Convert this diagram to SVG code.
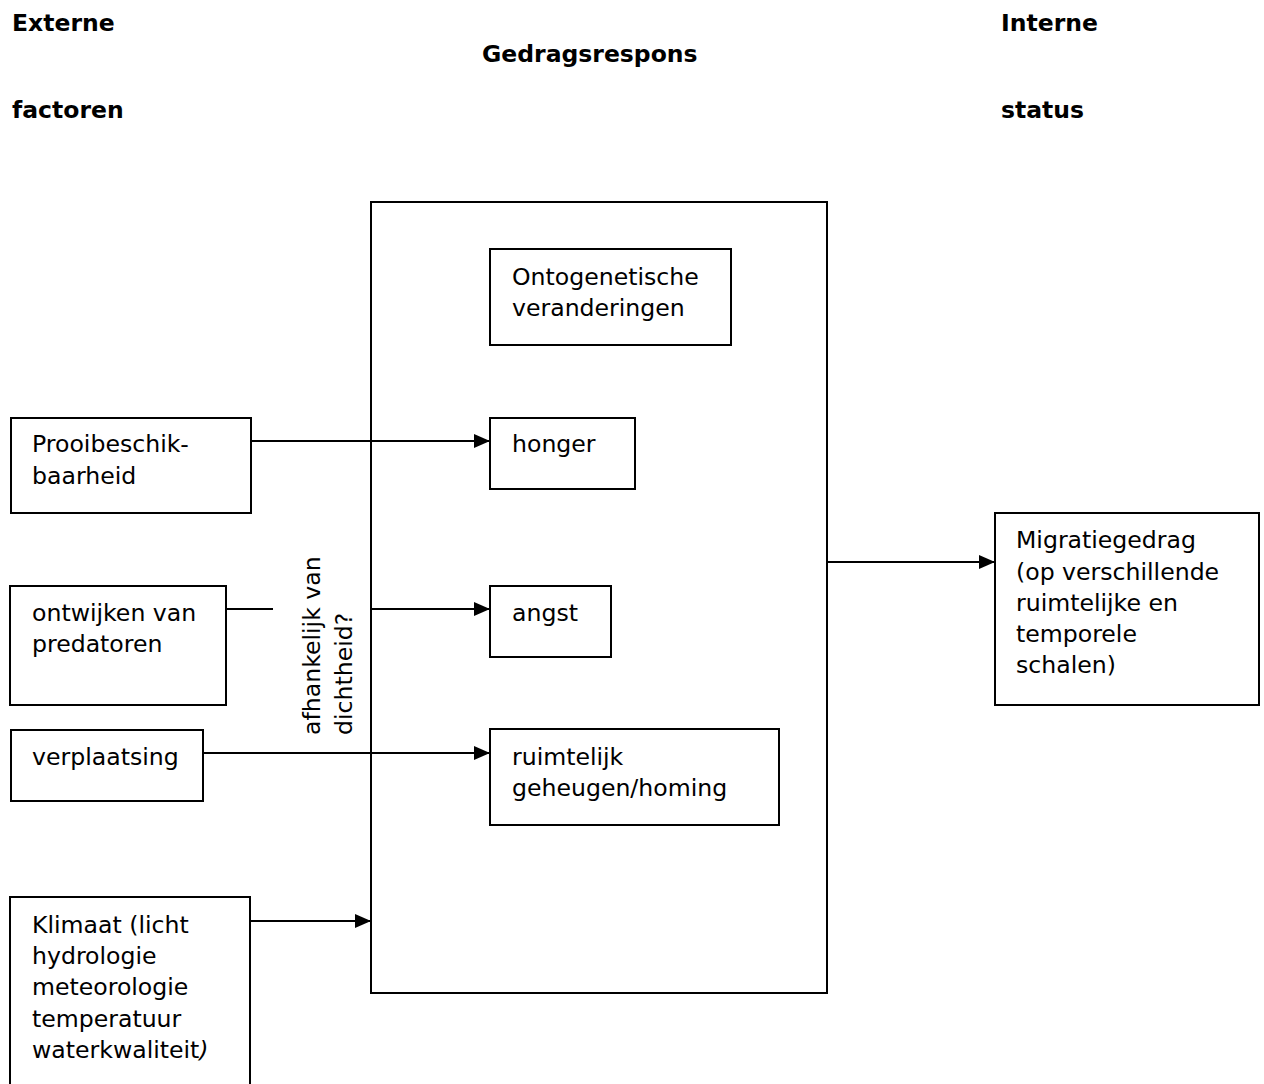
<svg xmlns="http://www.w3.org/2000/svg" width="1264" height="1084" viewBox="0 0 1264 1084">
<defs>
<marker id="ah" markerWidth="16" markerHeight="14" refX="16" refY="7" orient="auto" markerUnits="userSpaceOnUse">
<path d="M0,0 L16,7 L0,14 Z" fill="#000"/>
</marker>
<style>
text{font-family:"DejaVu Sans",Verdana,sans-serif;font-size:23.6px;fill:#000}
.h{font-weight:bold;font-size:23.5px}
.box{fill:#fff;stroke:#000;stroke-width:2}
.c{stroke:#000;stroke-width:2;fill:none}
</style>
</defs>
<rect width="1264" height="1084" fill="#fff"/>
<g id="headers">
<text class="h" x="12" y="31">Externe</text>
<text class="h" x="12" y="118">factoren</text>
<text class="h" x="482" y="62">Gedragsrespons</text>
<text class="h" x="1001" y="31">Interne</text>
<text class="h" x="1001" y="118">status</text>
</g>
<g id="main">
<rect class="box" x="371" y="202" width="456" height="791"/>
</g>
<g id="density">
<rect x="273" y="528" width="97" height="217" fill="#fff"/>
<line x1="371" y1="528" x2="371" y2="745" stroke="#000" stroke-width="1"/>
<text transform="translate(320,735) rotate(-90)">afhankelijk van</text>
<text transform="translate(352,735) rotate(-90)">dichtheid?</text>
</g>
<g id="connectors">
<line class="c" x1="251" y1="441" x2="490" y2="441" marker-end="url(#ah)"/>
<line class="c" x1="226" y1="609" x2="273" y2="609"/>
<line class="c" x1="371" y1="609" x2="490" y2="609" marker-end="url(#ah)"/>
<line class="c" x1="203" y1="753" x2="490" y2="753" marker-end="url(#ah)"/>
<line class="c" x1="250" y1="921" x2="371" y2="921" marker-end="url(#ah)"/>
<line class="c" x1="827" y1="562" x2="995" y2="562" marker-end="url(#ah)"/>
</g>
<g id="ontogenetische">
<rect class="box" x="490" y="249" width="241" height="96"/>
<text x="512" y="285">Ontogenetische</text>
<text x="512" y="316">veranderingen</text>
</g>
<g id="honger">
<rect class="box" x="490" y="418" width="145" height="71"/>
<text x="512" y="452">honger</text>
</g>
<g id="angst">
<rect class="box" x="490" y="586" width="121" height="71"/>
<text x="512" y="621">angst</text>
</g>
<g id="ruimtelijk">
<rect class="box" x="490" y="729" width="289" height="96"/>
<text x="512" y="765">ruimtelijk</text>
<text x="512" y="796">geheugen/homing</text>
</g>
<g id="prooi">
<rect class="box" x="11" y="418" width="240" height="95"/>
<text x="32" y="452">Prooibeschik-</text>
<text x="32" y="484">baarheid</text>
</g>
<g id="ontwijken">
<rect class="box" x="10" y="586" width="216" height="119"/>
<text x="32" y="621">ontwijken van</text>
<text x="32" y="652">predatoren</text>
</g>
<g id="verplaatsing">
<rect class="box" x="11" y="730" width="192" height="71"/>
<text x="32" y="765">verplaatsing</text>
</g>
<g id="klimaat">
<rect class="box" x="10" y="897" width="240" height="200"/>
<text x="32" y="933">Klimaat (licht</text>
<text x="32" y="964">hydrologie</text>
<text x="32" y="995">meteorologie</text>
<text x="32" y="1027">temperatuur</text>
<text x="32" y="1058">waterkwaliteit<tspan font-style="italic">)</tspan></text>
</g>
<g id="migratie">
<rect class="box" x="995" y="513" width="264" height="192"/>
<text x="1016" y="548">Migratiegedrag</text>
<text x="1016" y="580">(op verschillende</text>
<text x="1016" y="611">ruimtelijke en</text>
<text x="1016" y="642">temporele</text>
<text x="1016" y="673">schalen)</text>
</g>
</svg>
